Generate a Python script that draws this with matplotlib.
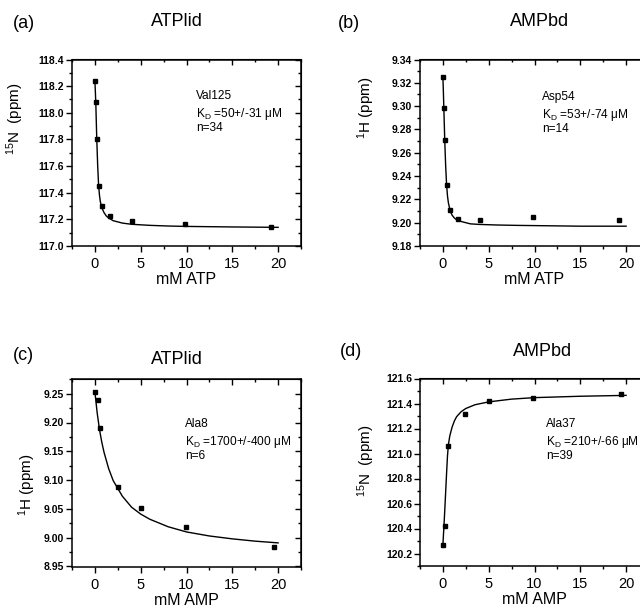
import matplotlib
matplotlib.use('Agg')
import matplotlib.pyplot as plt
from matplotlib.ticker import MultipleLocator, FormatStrFormatter

plt.rcParams['font.family'] = 'Liberation Sans'
plt.rcParams['mathtext.fontset'] = 'custom'
plt.rcParams['mathtext.rm'] = 'Liberation Sans'
plt.rcParams['mathtext.it'] = 'Liberation Sans:italic'

# titration points
atp_x = [0, 0.1, 0.2, 0.4, 0.8, 1.6, 4.0, 9.8, 19.2]
a_y = [118.24, 118.08, 117.80, 117.45, 117.30, 117.225, 117.185, 117.163, 117.143]
b_y = [9.325, 9.298, 9.271, 9.232, 9.211, 9.2035, 9.2024, 9.2047, 9.2024]

amp_x_c = [0, 0.3, 0.6, 2.5, 5.0, 9.9, 19.5]
c_y = [9.253, 9.2395, 9.191, 9.088, 9.052, 9.018, 8.984]

amp_x_d = [0, 0.2, 0.55, 2.4, 5.0, 9.8, 19.45]
d_y = [120.27, 120.42, 121.06, 121.32, 121.42, 121.446, 121.479]

# fitted curves
fit_x_atp = [0, 0.05, 0.1, 0.15, 0.2, 0.3, 0.4, 0.5, 0.6, 0.8, 1.0, 1.25, 1.5, 2, 3, 4, 6, 8, 10, 15, 20]
a_fit = [118.24, 118.16, 118.07, 117.94, 117.81, 117.61, 117.46, 117.38, 117.33, 117.28, 117.25,
         117.225, 117.21, 117.19, 117.172, 117.163, 117.155, 117.15, 117.147, 117.143, 117.14]
b_fit = [9.325, 9.313, 9.299, 9.285, 9.271, 9.249, 9.233, 9.223, 9.217, 9.210, 9.2065,
         9.204, 9.2025, 9.201, 9.199, 9.1985, 9.198, 9.1977, 9.1975, 9.197, 9.197]

fit_x_c = [0, 0.25, 0.5, 0.75, 1.0, 1.5, 2, 3, 4, 5, 6, 8, 10, 12.5, 15, 17.5, 20]
c_fit = [9.253, 9.2165, 9.188, 9.166, 9.148, 9.120, 9.099, 9.072, 9.053, 9.041, 9.032, 9.019,
         9.010, 9.003, 8.998, 8.994, 8.991]

fit_x_d = [0, 0.1, 0.2, 0.3, 0.4, 0.5, 0.6, 0.75, 1.0, 1.25, 1.5, 2, 2.5, 3.5, 5, 7.5, 10, 15, 20]
d_fit = [120.27, 120.40, 120.54, 120.69, 120.84, 120.98, 121.07, 121.14, 121.21, 121.26, 121.295,
         121.335, 121.36, 121.39, 121.413, 121.435, 121.447, 121.458, 121.465]

W, H = 640, 612
fig = plt.figure(figsize=(W / 100, H / 100), dpi=100)


def px_axes(left, top, right, bottom):
    return fig.add_axes([left / W, 1 - bottom / H, (right - left) / W, (bottom - top) / H])


def style(ax, ylim, ymaj, fmt):
    ax.set_xlim(-2.5, 22.5)
    ax.set_ylim(*ylim)
    ax.xaxis.set_major_locator(MultipleLocator(5))
    ax.xaxis.set_minor_locator(MultipleLocator(2.5))
    ax.yaxis.set_major_locator(MultipleLocator(ymaj))
    ax.yaxis.set_minor_locator(MultipleLocator(ymaj / 2))
    ax.yaxis.set_major_formatter(FormatStrFormatter(fmt))
    for s in ax.spines.values():
        s.set_linewidth(1.1)
    ax.tick_params(which='both', direction='out', width=1.0)
    ax.tick_params(which='major', length=4)
    ax.tick_params(which='minor', length=2.5)
    ax.tick_params(axis='x', labelsize=10.5, pad=4)
    ax.tick_params(axis='y', labelsize=7.5, pad=1.5)
    for lab in ax.get_yticklabels():
        lab.set_fontweight('bold')
    top = ax.secondary_xaxis('top')
    top.xaxis.set_major_locator(MultipleLocator(5))
    top.xaxis.set_minor_locator(MultipleLocator(2.5))
    top.tick_params(which='both', direction='in', labeltop=False, width=1.0)
    top.tick_params(which='major', length=4)
    top.tick_params(which='minor', length=2.5)
    right = ax.secondary_yaxis('right')
    right.yaxis.set_major_locator(MultipleLocator(ymaj))
    right.yaxis.set_minor_locator(MultipleLocator(ymaj / 2))
    right.tick_params(which='both', direction='in', labelright=False, width=1.0)
    right.tick_params(which='major', length=4)
    right.tick_params(which='minor', length=2.5)


def ftext(x, y, s, **kw):
    fig.text(x / W, 1 - y / H, s, **kw)


panels = [
    # box, ylim, major, fmt, x, y, fitx, fity, title, label, ylabel, ylabel pos, annot pos, annot
    ((72, 59.5, 301, 246), (117.0, 118.4), 0.2, '%.1f', atp_x, a_y, fit_x_atp, a_fit,
     'ATPlid', '(a)', r'$^{15}$N  (ppm)', (15, 119), (196, 90),
     ['Val125', r'K$_\mathrm{D}$ =50+/-31 μM', 'n=34'], 'mM ATP', (177, 21), (13, 24)),
    ((420, 59.5, 649, 246), (9.18, 9.34), 0.02, '%.2f', atp_x, b_y, fit_x_atp, b_fit,
     'AMPbd', '(b)', r'$^{1}$H (ppm)', (366, 108), (542, 91),
     ['Asp54', r'K$_\mathrm{D}$ =53+/-74 μM', 'n=14'], 'mM ATP', (540, 21), (338, 24)),
    ((72, 379.3, 301, 566.5), (8.95, 9.275), 0.05, '%.2f', amp_x_c, c_y, fit_x_c, c_fit,
     'ATPlid', '(c)', r'$^{1}$H (ppm)', (27, 485), (185, 418),
     ['Ala8', r'K$_\mathrm{D}$ =1700+/-400 μM', 'n=6'], 'mM AMP', (177, 360), (13, 356)),
    ((420, 378.5, 649, 566), (120.1, 121.6), 0.2, '%.1f', amp_x_d, d_y, fit_x_d, d_fit,
     'AMPbd', '(d)', r'$^{15}$N  (ppm)', (366, 461), (546, 418),
     ['Ala37', r'K$_\mathrm{D}$ =210+/-66 μM', 'n=39'], 'mM AMP', (543, 352), (340, 352)),
]

for (box, ylim, ymaj, fmt, xs, ys, fx, fy, title, lab, ylab, ylpos, apos, annot,
     xlab, tpos, lpos) in panels:
    ax = px_axes(*box)
    ax.plot(fx, fy, color='black', lw=1.0, clip_on=False)
    ax.plot(xs, ys, 's', color='black', ms=3.2, clip_on=False)
    style(ax, ylim, ymaj, fmt)
    ax.set_xlabel(xlab, fontsize=11.5, labelpad=1)
    ftext(*ylpos, ylab, rotation=90, ha='center', va='center', fontsize=11)
    ftext(*tpos, title, ha='center', va='center', fontsize=13)
    ftext(*lpos, lab, ha='left', va='center', fontsize=13)
    for i, line in enumerate(annot):
        ftext(apos[0], apos[1] + i * 16, line, ha='left', va='top', fontsize=8.6)

fig.savefig('out.png', dpi=100)
